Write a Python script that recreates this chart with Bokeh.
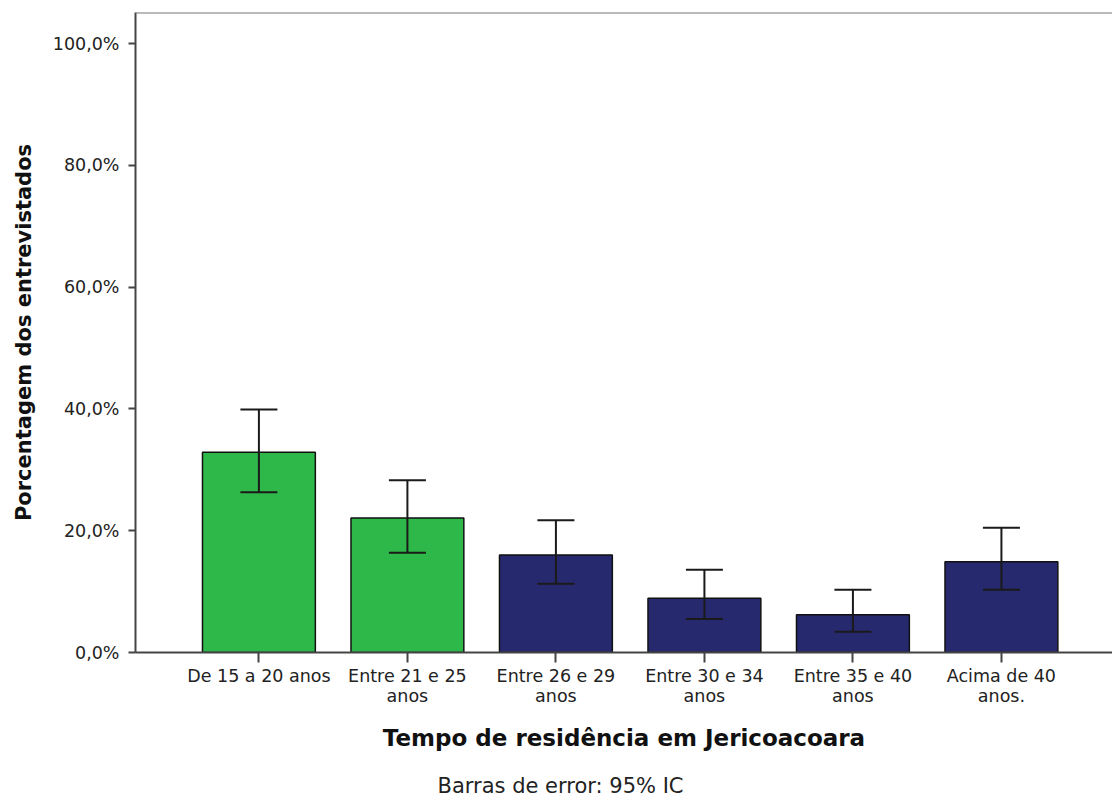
from bokeh.plotting import figure
from bokeh.models import (ColumnDataSource, Range1d, FixedTicker, CustomJSTickFormatter,
                          Whisker, TeeHead, Span, Title)
from bokeh.embed import file_html
from bokeh.resources import INLINE

# ---- data ----
categories = ["De 15 a 20 anos", "Entre 21 e 25\nanos", "Entre 26 e 29\nanos",
              "Entre 30 e 34\nanos", "Entre 35 e 40\nanos", "Acima de 40\nanos."]
percent = [32.9, 22.1, 16.0, 8.9, 6.2, 14.9]
ci_upper = [39.9, 28.3, 21.7, 13.6, 10.3, 20.5]
ci_lower = [26.3, 16.4, 11.3, 5.5, 3.4, 10.3]
y_ticks = [0, 20, 40, 60, 80, 100]

# ---- styles ----
bar_colors = ["#2EB84A", "#2EB84A", "#27296F", "#27296F", "#27296F", "#27296F"]
FONT = "DejaVu Sans"
AXIS_COLOR = "#444444"
y_max = 105.1

xs = list(range(len(categories)))
src = ColumnDataSource(dict(x=xs, pct=percent, up=ci_upper, lo=ci_lower, color=bar_colors))

p = figure(frame_width=977, frame_height=640, output_backend="svg", toolbar_location=None,
           x_range=Range1d(-0.831, 5.748), y_range=Range1d(0, y_max),
           min_border_left=135, min_border_right=0, min_border_top=12, min_border_bottom=0)
p.outline_line_color = None
p.xgrid.visible = False
p.ygrid.visible = False
p.background_fill_color = "white"
p.border_fill_color = "white"

p.vbar(x="x", top="pct", width=0.76, source=src, fill_color="color",
       line_color="#111111", line_width=1.5)

head_kw = dict(size=37, line_color="#1a1a1a", line_width=2)
wh = Whisker(source=src, base="x", upper="up", lower="lo", dimension="height",
             line_color="#1a1a1a", line_width=2, level="overlay",
             upper_head=TeeHead(**head_kw), lower_head=TeeHead(**head_kw))
p.add_layout(wh)

# top border of the frame
p.add_layout(Span(location=y_max, dimension="width", line_color="#777777", line_width=2))

# x axis
xa = p.xaxis[0]
xa.ticker = FixedTicker(ticks=xs)
xa.major_label_overrides = {i: c for i, c in zip(xs, categories)}
xa.axis_line_color = AXIS_COLOR
xa.axis_line_width = 2
xa.major_tick_line_color = AXIS_COLOR
xa.major_tick_line_width = 2
xa.major_tick_out = 10
xa.major_tick_in = 0
xa.minor_tick_line_color = None
xa.major_label_text_font = FONT
xa.major_label_text_font_size = "17.5px"
xa.major_label_text_color = "#222222"
xa.major_label_text_line_height = 1.0
xa.major_label_standoff = 3
xa.axis_label = "Tempo de residência em Jericoacoara"
xa.axis_label_text_font = FONT
xa.axis_label_text_font_size = "23px"
xa.axis_label_text_font_style = "bold"
xa.axis_label_text_color = "#111111"
xa.axis_label_standoff = 16

# y axis
ya = p.yaxis[0]
ya.ticker = FixedTicker(ticks=y_ticks)
ya.formatter = CustomJSTickFormatter(code="return tick.toFixed(1).replace('.', ',') + '%';")
ya.axis_line_color = AXIS_COLOR
ya.axis_line_width = 2
ya.major_tick_line_color = AXIS_COLOR
ya.major_tick_line_width = 2
ya.major_tick_out = 7
ya.major_tick_in = 0
ya.minor_tick_line_color = None
ya.major_label_text_font = FONT
ya.major_label_text_font_size = "17.5px"
ya.major_label_text_color = "#222222"
ya.major_label_standoff = 9
ya.axis_label = "Porcentagem dos entrevistados"
ya.axis_label_text_font = FONT
ya.axis_label_text_font_size = "21px"
ya.axis_label_text_font_style = "bold"
ya.axis_label_text_color = "#111111"
ya.axis_label_standoff = 14

note = Title(text="Barras de error: 95% IC", align="left", offset=302,
             text_font=FONT, text_font_size="21px", text_font_style="normal",
             text_color="#222222", standoff=36)
p.add_layout(note, "below")

open("out.html", "w").write(file_html(p, INLINE))
